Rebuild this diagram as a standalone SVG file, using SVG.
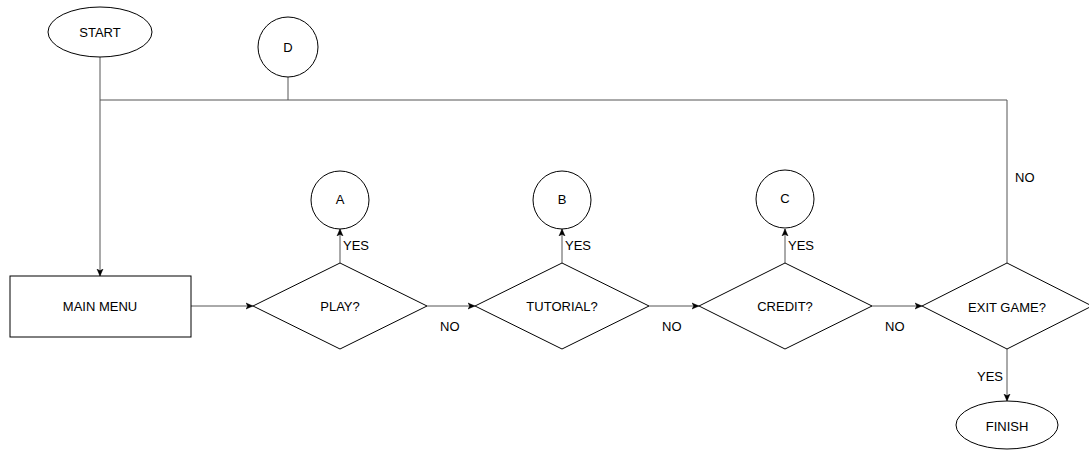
<svg xmlns="http://www.w3.org/2000/svg" width="1089" height="450" viewBox="0 0 1089 450">
<style>
.shape{fill:#fff;stroke:#000;stroke-width:1}
.conn{fill:none;stroke:#555;stroke-width:1}
text{font-family:"Liberation Sans",Arial,sans-serif;font-size:13px;fill:#000}
.c{text-anchor:middle;dominant-baseline:central}
.l{dominant-baseline:central}
</style>
<defs>
<marker id="arr" markerWidth="8" markerHeight="8" viewBox="0 0 8 8" refX="7" refY="4" orient="auto" markerUnits="userSpaceOnUse">
<path d="M0,1 L7,4 L0,7 L1.8,4 Z" fill="#000" stroke="#000" stroke-width="0.5"/>
</marker>
</defs>
<rect width="1089" height="450" fill="#fff"/>
<g id="connectors">
<path class="conn" d="M100,57 V276" marker-end="url(#arr)"/>
<path class="conn" d="M288,77 V100"/>
<path class="conn" d="M100,100 H1007 V263"/>
<path class="conn" d="M191,306 H253" marker-end="url(#arr)"/>
<path class="conn" d="M340,263 V229" marker-end="url(#arr)"/>
<path class="conn" d="M427,306 H475" marker-end="url(#arr)"/>
<path class="conn" d="M562,263 V229" marker-end="url(#arr)"/>
<path class="conn" d="M649,306 H699" marker-end="url(#arr)"/>
<path class="conn" d="M785,263 V229" marker-end="url(#arr)"/>
<path class="conn" d="M872,306 H922" marker-end="url(#arr)"/>
<path class="conn" d="M1007,349 V401" marker-end="url(#arr)"/>
<text class="l" x="343" y="245">YES</text>
<text class="l" x="565" y="245">YES</text>
<text class="l" x="788" y="245">YES</text>
<text class="l" x="440" y="326">NO</text>
<text class="l" x="662" y="326">NO</text>
<text class="l" x="885" y="326">NO</text>
<text class="l" x="1015" y="177">NO</text>
<text class="l" x="977" y="376">YES</text>
</g>
<g id="start"><ellipse class="shape" cx="100" cy="32" rx="52" ry="25"/><text class="c" x="100" y="32">START</text></g>
<g id="d"><circle class="shape" cx="288" cy="47" r="30"/><text class="c" x="288" y="47">D</text></g>
<g id="main-menu"><rect class="shape" x="10" y="276" width="181" height="61"/><text class="c" x="100" y="306">MAIN MENU</text></g>
<g id="play"><path class="shape" d="M340,263 L427,306 L340,349 L253,306 Z"/><text class="c" x="340" y="306">PLAY?</text></g>
<g id="a"><circle class="shape" cx="340" cy="200" r="29"/><text class="c" x="340" y="199">A</text></g>
<g id="tutorial"><path class="shape" d="M562,263 L649,306 L562,349 L475,306 Z"/><text class="c" x="562" y="306">TUTORIAL?</text></g>
<g id="b"><circle class="shape" cx="562" cy="200" r="29"/><text class="c" x="562" y="199">B</text></g>
<g id="credit"><path class="shape" d="M785,263 L872,306 L785,349 L699,306 Z"/><text class="c" x="785" y="306">CREDIT?</text></g>
<g id="c"><circle class="shape" cx="785" cy="199" r="29"/><text class="c" x="785" y="198">C</text></g>
<g id="exit"><path class="shape" d="M1007,263 L1092,306 L1007,349 L922,306 Z"/><text class="c" x="1007" y="307">EXIT GAME?</text></g>
<g id="finish"><ellipse class="shape" cx="1007" cy="425" rx="51" ry="24"/><text class="c" x="1007" y="426">FINISH</text></g>
</svg>
